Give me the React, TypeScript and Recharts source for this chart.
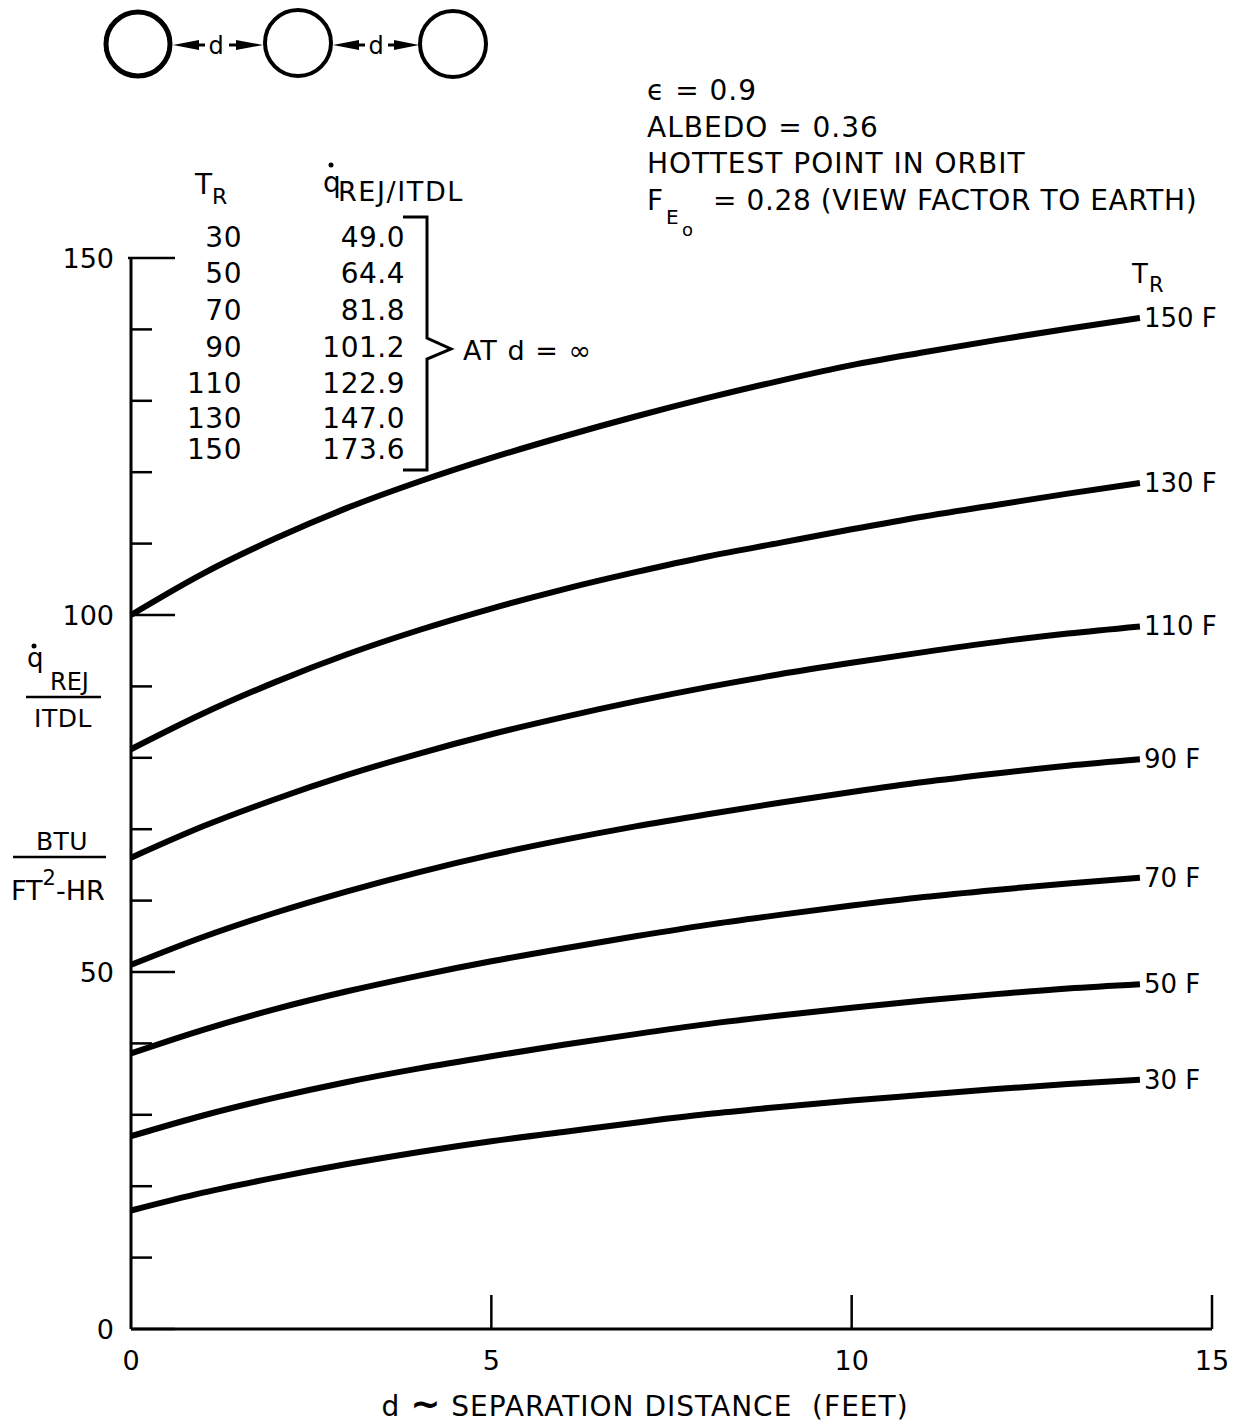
import React from 'react';
import { LineChart, Line, XAxis, YAxis, LabelList } from 'recharts';

const FONT = '"DejaVu Sans", sans-serif';

// Separation distance d (ft) at which each curve is sampled
const separationFt = [0, 1, 2, 3, 4, 5, 6, 7, 8, 9, 10, 11, 12, 13, 14];

// q_REJ / ITDL (BTU / FT^2-HR) for each radiator temperature T_R
const q150 = [100, 105.8, 110.7, 115, 118.7, 122, 125, 127.8, 130.4, 132.8, 135, 136.8, 138.5, 140.1, 141.6];
const q130 = [81.2, 86.2, 90.6, 94.5, 97.9, 100.9, 103.6, 106, 108.2, 110.1, 112, 113.8, 115.4, 117, 118.5];
const q110 = [66, 70.4, 74.2, 77.6, 80.6, 83.3, 85.7, 87.9, 89.9, 91.7, 93.3, 94.8, 96.2, 97.4, 98.4];
const q90 = [51, 54.9, 58.3, 61.3, 64, 66.4, 68.5, 70.4, 72.1, 73.7, 75.2, 76.6, 77.8, 78.9, 79.8];
const q70 = [38.6, 41.9, 44.8, 47.3, 49.5, 51.5, 53.3, 55, 56.6, 58, 59.3, 60.5, 61.5, 62.4, 63.2];
const q50 = [27, 29.9, 32.4, 34.6, 36.5, 38.2, 39.8, 41.3, 42.7, 43.9, 45, 46, 46.9, 47.7, 48.3];
const q30 = [16.6, 19.1, 21.2, 23.1, 24.8, 26.3, 27.6, 28.9, 30.1, 31.1, 32, 32.8, 33.6, 34.3, 34.9];

const radiatorTemps = [150, 130, 110, 90, 70, 50, 30];
const seriesValues = [q150, q130, q110, q90, q70, q50, q30];

// Axis ticks
const xTicks = [0, 5, 10, 15];
const yTicks = [0, 10, 20, 30, 40, 50, 60, 70, 80, 90, 100, 110, 120, 130, 140, 150];
const yMajorTicks = [0, 50, 100, 150];

// Values at infinite separation
const infTemps = [30, 50, 70, 90, 110, 130, 150];
const infValues = [49.0, 64.4, 81.8, 101.2, 122.9, 147.0, 173.6];

const chartData = separationFt.map((d, i) => {
  const row: Record<string, number> = { d };
  radiatorTemps.forEach((t, k) => {
    row[`t${t}`] = seriesValues[k][i];
  });
  return row;
});

const W = 1233;
const H = 1426;
const Y_AXIS_W = 100;
const X_AXIS_H = 50;

const textProps = { fontFamily: FONT, fill: '#000' };

const YTick = (props: any) => {
  const { x, y, payload } = props;
  const v = payload.value as number;
  const major = yMajorTicks.includes(v);
  return (
    <g>
      <line
        x1={v === 150 ? x - 3 : x}
        x2={x + (major ? 44 : 21)}
        y1={y}
        y2={y}
        stroke="#000"
        strokeWidth={2.5}
      />
      {major && (
        <text x={x - 17} y={y} dy={10} textAnchor="end" fontSize={27} {...textProps}>
          {v}
        </text>
      )}
    </g>
  );
};

const XTick = (props: any) => {
  const { x, y, payload } = props;
  const v = payload.value as number;
  return (
    <g>
      {v !== 0 && <line x1={x} x2={x} y1={y} y2={y - 34} stroke="#000" strokeWidth={2.5} />}
      <text x={x} y={y + 41} textAnchor="middle" fontSize={27} {...textProps}>
        {v}
      </text>
    </g>
  );
};

const endLabel = (temp: number) => (props: any) => {
  const { x, y, index } = props;
  if (index !== separationFt.length - 1) return null;
  return (
    <text x={x + 4} y={y} dy={9} fontSize={26} {...textProps}>
      {`${temp} F`}
    </text>
  );
};

// Filled arrowhead with a short shaft
const Arrow = ({ tip, base, tail, y }: { tip: number; base: number; tail: number; y: number }) => (
  <g>
    <polygon points={`${tip},${y} ${base},${y - 5} ${base},${y + 5}`} fill="#000" />
    <line x1={base} x2={tail} y1={y} y2={y} stroke="#000" strokeWidth={3} />
  </g>
);

const Annotations = () => {
  const rowY = [247, 283, 320, 357, 393, 428, 459];
  return (
    <svg
      width={W}
      height={H}
      style={{ position: 'absolute', left: 0, top: 0, pointerEvents: 'none' }}
    >
      {/* three radiator tubes with separation d */}
      <circle cx={138} cy={44} r={32} fill="none" stroke="#000" strokeWidth={5} />
      <circle cx={298} cy={43} r={33} fill="none" stroke="#000" strokeWidth={4} />
      <circle cx={453} cy={44} r={33} fill="none" stroke="#000" strokeWidth={4} />
      <Arrow tip={173} base={199} tail={205} y={45} />
      <text x={216} y={54} textAnchor="middle" fontSize={24} {...textProps}>d</text>
      <Arrow tip={263} base={236} tail={229} y={45} />
      <Arrow tip={333} base={359} tail={365} y={45} />
      <text x={376} y={54} textAnchor="middle" fontSize={24} {...textProps}>d</text>
      <Arrow tip={419} base={394} tail={388} y={45} />

      {/* conditions */}
      <g fontSize={28} letterSpacing={1} {...textProps}>
        <text x={647} y={100}>ϵ = 0.9</text>
        <text x={647} y={137}>ALBEDO = 0.36</text>
        <text x={647} y={173}>HOTTEST POINT IN ORBIT</text>
        <text x={647} y={210}>F</text>
        <text x={666} y={224} fontSize={20}>E</text>
        <text x={682} y={236} fontSize={18}>o</text>
        <text x={713} y={210} letterSpacing={0.6}>= 0.28 (VIEW FACTOR TO EARTH)</text>
      </g>

      {/* values at d = infinity */}
      <g {...textProps}>
        <text x={195} y={194} fontSize={28}>T</text>
        <text x={212} y={204} fontSize={22}>R</text>
        <text x={323} y={192} fontSize={28}>q</text>
        <circle cx={331} cy={165} r={2.5} fill="#000" />
        <text x={338} y={201} fontSize={27} letterSpacing={1.6}>REJ/ITDL</text>
        {infTemps.map((t, i) => (
          <text key={`t${t}`} x={242} y={rowY[i]} textAnchor="end" fontSize={28} letterSpacing={0.5}>
            {t}
          </text>
        ))}
        {infValues.map((v, i) => (
          <text key={`v${i}`} x={405} y={rowY[i]} textAnchor="end" fontSize={28} letterSpacing={0.5}>
            {v.toFixed(1)}
          </text>
        ))}
        <path
          d="M403,217 L427,217 L427,338 L451,349 L427,359 L427,470 L403,470"
          fill="none"
          stroke="#000"
          strokeWidth={3}
        />
        <text x={463} y={360} fontSize={27} letterSpacing={1}>AT d = ∞</text>
      </g>

      {/* curve key */}
      <g {...textProps}>
        <text x={1132} y={283} fontSize={26}>T</text>
        <text x={1149} y={292} fontSize={21}>R</text>
      </g>

      {/* y axis title */}
      <g {...textProps}>
        <text x={27} y={667} fontSize={26}>q</text>
        <circle cx={34} cy={646} r={2.5} fill="#000" />
        <text x={50} y={690} fontSize={24}>REJ</text>
        <line x1={26} x2={101} y1={697} y2={697} stroke="#000" strokeWidth={2.5} />
        <text x={63} y={727} textAnchor="middle" fontSize={25} letterSpacing={0.5}>ITDL</text>
        <text x={62} y={850} textAnchor="middle" fontSize={25} letterSpacing={0.5}>BTU</text>
        <line x1={13} x2={106} y1={857} y2={857} stroke="#000" strokeWidth={2.5} />
        <text x={11} y={900} fontSize={27}>
          FT<tspan dy={-15} fontSize={21}>2</tspan>
          <tspan dy={15}>-HR</tspan>
        </text>
      </g>

      {/* x axis title */}
      <text
        x={645}
        y={1416}
        textAnchor="middle"
        fontSize={28}
        letterSpacing={1}
        style={{ whiteSpace: 'pre' }}
        {...textProps}
      >
        d <tspan fontSize={36} fontWeight="bold">∼</tspan> SEPARATION DISTANCE  (FEET)
      </text>
    </svg>
  );
};

export default function App() {
  return (
    <div style={{ position: 'absolute', left: 0, top: 0, width: W, height: H, background: '#fff' }}>
      <LineChart
        width={W}
        height={H}
        data={chartData}
        margin={{ top: 258, right: 21, left: 131 - Y_AXIS_W, bottom: H - 1329 - X_AXIS_H }}
      >
        <XAxis
          dataKey="d"
          type="number"
          domain={[0, 15]}
          ticks={xTicks}
          interval={0}
          height={X_AXIS_H}
          tickSize={0}
          tickMargin={0}
          tickLine={false}
          axisLine={{ stroke: '#000', strokeWidth: 3 }}
          tick={<XTick />}
        />
        <YAxis
          type="number"
          domain={[0, 150]}
          ticks={yTicks}
          interval={0}
          width={Y_AXIS_W}
          tickSize={0}
          tickMargin={0}
          tickLine={false}
          axisLine={{ stroke: '#000', strokeWidth: 3 }}
          tick={<YTick />}
        />
        {radiatorTemps.map((t) => (
          <Line
            key={t}
            dataKey={`t${t}`}
            type="monotone"
            stroke="#000"
            strokeWidth={6}
            dot={false}
            activeDot={false}
            isAnimationActive={false}
          >
            <LabelList dataKey={`t${t}`} content={endLabel(t)} />
          </Line>
        ))}
      </LineChart>
      <Annotations />
    </div>
  );
}
